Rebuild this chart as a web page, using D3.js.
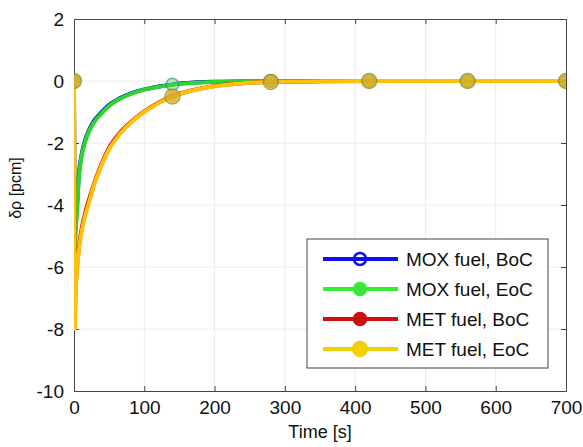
<!DOCTYPE html>
<html><head><meta charset="utf-8">
<script src="https://cdn.jsdelivr.net/npm/d3@7"></script>
<style>body{margin:0;background:#fff}svg{display:block}text{font-family:"Liberation Sans",Arial,sans-serif}</style>
</head><body><svg id="c" width="583" height="447"></svg>
<script>
const times = [0, 1, 2, 4, 7, 11, 16, 21, 28, 37, 50, 65, 83, 100, 120, 140, 170, 200, 240, 280, 350, 420, 490, 560, 630, 700];
const moxBoC = [0, -5.4, -4.8, -4.15, -3.0, -2.35, -1.9, -1.6, -1.3, -1.06, -0.77, -0.56, -0.38, -0.27, -0.18, -0.11, -0.05, -0.025, -0.01, 0, 0, 0, 0, 0, 0, 0];
const moxEoC = [0, -5.5, -4.9, -4.3, -3.1, -2.4, -1.95, -1.65, -1.35, -1.1, -0.8, -0.58, -0.4, -0.28, -0.19, -0.12, -0.06, -0.03, -0.01, 0, 0, 0, 0, 0, 0, 0];
const metBoC = [0, -7.9, -6.9, -6.1, -5.35, -4.75, -4.25, -3.85, -3.35, -2.8, -2.15, -1.68, -1.28, -0.98, -0.7, -0.49, -0.29, -0.16, -0.07, -0.03, -0.01, 0, 0, 0, 0, 0];
const metEoC = [0, -8.0, -7.0, -6.2, -5.45, -4.85, -4.35, -3.95, -3.4, -2.85, -2.2, -1.72, -1.3, -1.0, -0.72, -0.5, -0.3, -0.17, -0.07, -0.03, -0.01, 0, 0, 0, 0, 0];
const markerTimes = [0, 140, 280, 420, 560, 700];
const seriesNames = ["MOX fuel, BoC", "MOX fuel, EoC", "MET fuel, BoC", "MET fuel, EoC"];
const xTicks = [0, 100, 200, 300, 400, 500, 600, 700];
const yTicks = [-10, -8, -6, -4, -2, 0, 2];

const series = [
  {name: seriesNames[0], values: moxBoC, color: "#1010ee", mfill: "none", mstroke: "#4060ff", r: 6, mop: 0.55},
  {name: seriesNames[1], values: moxEoC, color: "#2ad62a", mfill: "#50e050", mstroke: "#30b030", r: 6.5, mop: 0.35},
  {name: seriesNames[2], values: metBoC, color: "#cc1010", mfill: "#d02010", mstroke: "#b01010", r: 5, mop: 0.45},
  {name: seriesNames[3], values: metEoC, color: "#ffc00a", mfill: "#e0c020", mstroke: "#8a8a30", r: 7.5, mop: 0.75}
];

const svg = d3.select("#c");
const m = {l: 74, r: 17, t: 19, b: 56};
const W = 583, H = 447;
const x = d3.scaleLinear().domain([0, 700]).range([m.l, W - m.r]);
const y = d3.scaleLinear().domain([-10, 2]).range([H - m.b, m.t]);

// grid
const g = svg.append("g");
g.selectAll(".gx").data(xTicks.slice(1, -1)).enter().append("line")
  .attr("x1", d => x(d)).attr("x2", d => x(d)).attr("y1", y(-10)).attr("y2", y(2))
  .attr("stroke", "#ececec").attr("stroke-width", 1);
g.selectAll(".gy").data(yTicks.slice(1, -1)).enter().append("line")
  .attr("y1", d => y(d)).attr("y2", d => y(d)).attr("x1", x(0)).attr("x2", x(700))
  .attr("stroke", "#ececec").attr("stroke-width", 1);

// axes
const fmt = d => String(d);
const axB = d3.axisBottom(x).tickValues(xTicks).tickFormat(fmt).tickSizeInner(-5).tickSizeOuter(0).tickPadding(10);
const axL = d3.axisLeft(y).tickValues(yTicks).tickFormat(fmt).tickSizeInner(-5).tickSizeOuter(0).tickPadding(10);
const axT = d3.axisTop(x).tickValues(xTicks).tickSizeInner(-5).tickSizeOuter(0).tickFormat("");
const axR = d3.axisRight(y).tickValues(yTicks).tickSizeInner(-5).tickSizeOuter(0).tickFormat("");
function styleAx(sel){ sel.selectAll("path,line").attr("stroke", "#444"); sel.selectAll("text").attr("font-size", 19).attr("fill", "#111"); sel.attr("font-family", null);}
svg.append("g").attr("transform", `translate(0,${y(-10)})`).call(axB).call(styleAx);
svg.append("g").attr("transform", `translate(${x(0)},0)`).call(axL).call(styleAx);
svg.append("g").attr("transform", `translate(0,${y(2)})`).call(axT).call(styleAx);
svg.append("g").attr("transform", `translate(${x(700)},0)`).call(axR).call(styleAx);

// clip
svg.append("clipPath").attr("id", "clip").append("rect")
  .attr("x", x(0)).attr("y", y(2)).attr("width", x(700) - x(0)).attr("height", y(-10) - y(2));

const line = d3.line().x(d => x(d[0])).y(d => y(d[1])).curve(d3.curveMonotoneX);
const plot = svg.append("g").attr("clip-path", "url(#clip)");
series.forEach(s => {
  plot.append("path").datum(times.map((t, i) => [t, s.values[i]]))
    .attr("d", line).attr("fill", "none").attr("stroke", s.color).attr("stroke-width", 4)
    .attr("stroke-linejoin", "round");
});
series.forEach(s => {
  const pts = markerTimes.map(t => [t, s.values[times.indexOf(t)]]);
  plot.selectAll(null).data(pts).enter().append("circle")
    .attr("cx", d => x(d[0])).attr("cy", d => y(d[1])).attr("r", s.r)
    .attr("fill", s.mfill).attr("stroke", s.mstroke).attr("stroke-width", 1.5)
    .attr("opacity", s.mop);
});

// axis labels
svg.append("text").attr("x", (x(0) + x(700)) / 2).attr("y", 438).attr("text-anchor", "middle")
  .attr("font-size", 18).attr("fill", "#111").text("Time [s]");
svg.append("text").attr("transform", `translate(21,188) rotate(-90)`).attr("text-anchor", "middle")
  .attr("font-size", 16).attr("fill", "#111").text("δρ [pcm]");

// legend
const lg = svg.append("g");
lg.append("rect").attr("x", 307).attr("y", 239).attr("width", 241).attr("height", 129)
  .attr("fill", "#fff").attr("stroke", "#444").attr("stroke-width", 1);
const legColors = ["#1010ee", "#33ee33", "#cc1010", "#f0d000"];
const legFill = ["none", "#40e040", "#cc1010", "#f8d010"];
series.forEach((s, i) => {
  const yy = 259 + i * 30;
  lg.append("line").attr("x1", 323).attr("x2", 398).attr("y1", yy).attr("y2", yy)
    .attr("stroke", legColors[i]).attr("stroke-width", 4);
  lg.append("circle").attr("cx", 360).attr("cy", yy).attr("r", i === 3 ? 7 : 6)
    .attr("fill", legFill[i]).attr("stroke", legColors[i]).attr("stroke-width", 2.5);
  lg.append("text").attr("x", 406).attr("y", yy).attr("dy", "0.36em")
    .attr("font-size", 19).attr("fill", "#111").text(s.name);
});
</script></body></html>
